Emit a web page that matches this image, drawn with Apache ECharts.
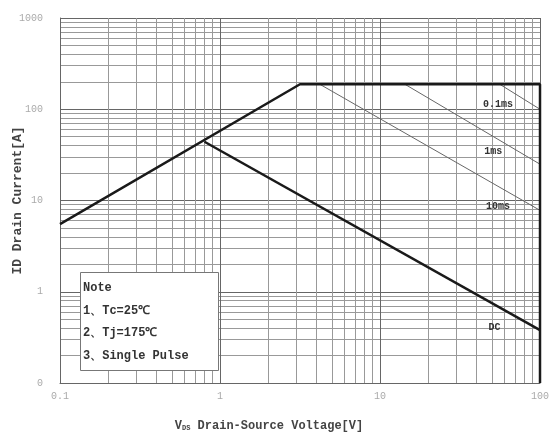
<!DOCTYPE html>
<html><head><meta charset="utf-8">
<script src="https://cdn.jsdelivr.net/npm/echarts@6/dist/echarts.min.js"></script>
<style>html,body{margin:0;padding:0;background:#fff}#c{width:555px;height:436px}</style>
</head><body><div id="c"></div>
<script>
const yTickLabels = ['0', '1', '10', '100', '1000'];
const xTickLabels = ['0.1', '1', '10', '100'];
const soaBoundary = [[0.1, 5.5], [3.16, 188], [100, 188], [100, 0.1]];
const dcLine = [[0.8, 44], [100, 0.38]];
const line10ms = [[4.2, 188], [100, 7.8]];
const line1ms = [[14.3, 188], [100, 25]];
const line01ms = [[56, 188], [100, 100]];
const lineLabels = [
  { text: '0.1ms', coord: [54.6, 113] },
  { text: '1ms', coord: [51, 34.7] },
  { text: '10ms', coord: [54.6, 8.6] },
  { text: 'DC', coord: [52, 0.41] }
];
const noteLines = ['Note', '1、Tc=25℃', '2、Tj=175℃', '3、Single Pulse'];

const chart = echarts.init(document.getElementById('c'));
const mono = 'Liberation Mono';
const minorLine = { lineStyle: { color: '#999', width: 1 } };
chart.setOption({
  animation: false,
  grid: { left: 60, right: 15, top: 18, bottom: 53, containLabel: false, outerBoundsMode: 'none' },
  xAxis: {
    type: 'log', logBase: 10, min: 0.1, max: 100,
    axisLine: { show: true, lineStyle: { color: '#666' } },
    axisTick: { show: false },
    splitLine: { show: true, lineStyle: { color: '#666', width: 1 } },
    minorTick: { show: false, splitNumber: 9 },
    minorSplitLine: Object.assign({ show: true }, minorLine),
    axisLabel: { color: '#aaa', fontFamily: mono, fontSize: 10, margin: 8,
      formatter: (v, i) => xTickLabels[i] },
    name: 'V{sub|DS} Drain-Source Voltage[V]',
    nameLocation: 'middle', nameGap: 37, nameMoveOverlap: false,
    nameTextStyle: { color: '#444', fontFamily: mono, fontSize: 12, fontWeight: 'bold', padding: [0, 62, 0, 0],
      rich: { sub: { fontSize: 7, fontFamily: mono, color: '#444', fontWeight: 'bold', verticalAlign: 'bottom', padding: [4, 0, 0, 0] } } }
  },
  yAxis: {
    type: 'log', logBase: 10, min: 0.1, max: 1000,
    axisLine: { show: true, lineStyle: { color: '#666' } },
    axisTick: { show: false },
    splitLine: { show: true, lineStyle: { color: '#666', width: 1 } },
    minorTick: { show: false, splitNumber: 9 },
    minorSplitLine: Object.assign({ show: true }, minorLine),
    axisLabel: { color: '#aaa', fontFamily: mono, fontSize: 10, margin: 17,
      formatter: (v, i) => yTickLabels[i] },
    name: 'ID Drain Current[A]',
    nameLocation: 'middle', nameGap: 36, nameMoveOverlap: false,
    nameTextStyle: { color: '#444', fontFamily: mono, fontSize: 13, fontWeight: 'bold' }
  },
  series: [
    { type: 'line', data: soaBoundary, symbol: 'none', lineStyle: { color: '#1a1a1a', width: 2.5 }, z: 5 },
    { type: 'line', data: dcLine, symbol: 'none', lineStyle: { color: '#1a1a1a', width: 2.5 }, z: 5,
      markPoint: {
        symbol: 'rect', symbolSize: 1, itemStyle: { color: 'transparent' },
        label: { show: true, position: 'inside', color: '#333', fontFamily: mono, fontSize: 10, fontWeight: 'bold',
          formatter: p => p.name },
        data: lineLabels.map(l => ({ name: l.text, coord: l.coord }))
      } },
    { type: 'line', data: line10ms, symbol: 'none', lineStyle: { color: '#666', width: 1 } },
    { type: 'line', data: line1ms, symbol: 'none', lineStyle: { color: '#666', width: 1 } },
    { type: 'line', data: line01ms, symbol: 'none', lineStyle: { color: '#666', width: 1 } }
  ],
  graphic: [
    { type: 'rect', left: 80, top: 272, z: 100,
      shape: { width: 138, height: 98 },
      style: { fill: '#fff', stroke: '#777', lineWidth: 1 } },
    { type: 'text', left: 83, top: 277, z: 101,
      style: { text: noteLines.join('\n'), fill: '#333', font: 'bold 12px "Liberation Mono"', lineHeight: 22.5 } }
  ]
});
</script></body></html>
